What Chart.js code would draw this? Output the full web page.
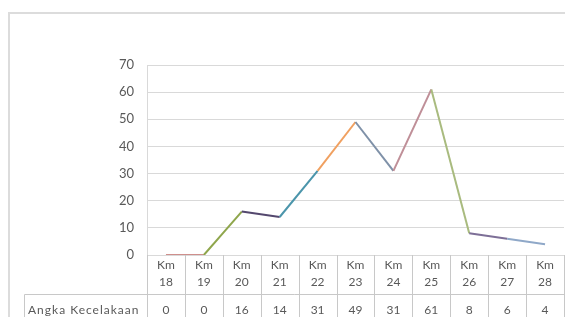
<!DOCTYPE html>
<html>
<head>
<meta charset="utf-8">
<script src="https://cdn.jsdelivr.net/npm/chart.js@4"></script>
<style>
  html, body { margin: 0; padding: 0; background: #fff; overflow: hidden; }
  #wrap { position: relative; width: 565px; height: 317px; }
  #frame { position: absolute; left: 8px; top: 12px; width: 600px; height: 400px;
           border: 2px solid #dcdcdc; box-sizing: border-box; }
  canvas { position: absolute; left: 0; top: 0; }
</style>
</head>
<body>
<div id="wrap">
  <div id="frame"></div>
  <canvas id="chart" width="565" height="317"></canvas>
</div>
<script>
// data
const categories = ["Km 18", "Km 19", "Km 20", "Km 21", "Km 22", "Km 23", "Km 24", "Km 25", "Km 26", "Km 27", "Km 28"];
const accidents  = [0, 0, 16, 14, 31, 49, 31, 61, 8, 6, 4];
const seriesName = "Angka Kecelakaan";
const yMin = 0, yMax = 70, yStep = 10;

// excel "vary colours by point" — segment takes the colour of the point it ends on
const pointColors = ["#4f81bd", "#cf8f8c", "#8fa64c", "#54486e", "#4b95ab", "#f0a060",
                     "#7f91a8", "#bf8f98", "#a9bb7f", "#7d6f97", "#8fa8c8"];

const textColor = "#595959";
const lineColor = "#d9d9d9";
const tableLine = "#c8c8c8";
const font = "Lato, 'Liberation Sans', sans-serif";

// draws the data table under the plot
const dataTable = {
  id: "dataTable",
  afterDraw(chart) {
    const ctx = chart.ctx, x = chart.scales.x, area = chart.chartArea;
    const w = x.getPixelForValue(1) - x.getPixelForValue(0);
    const top = area.bottom, rowY = 294.5, bottom = chart.height + 2;
    const labelLeft = 24.5;

    ctx.save();
    ctx.strokeStyle = tableLine;
    ctx.lineWidth = 1;
    ctx.beginPath();
    for (let i = 0; i <= categories.length; i++) {
      const bx = Math.round(x.getPixelForValue(i) - w / 2) + 0.5;
      ctx.moveTo(bx, top);
      ctx.lineTo(bx, bottom);
    }
    ctx.moveTo(labelLeft, rowY);
    ctx.lineTo(area.right, rowY);
    ctx.moveTo(labelLeft, rowY);
    ctx.lineTo(labelLeft, bottom);
    ctx.stroke();

    ctx.fillStyle = textColor;
    ctx.font = "12px " + font;
    ctx.textAlign = "center";
    ctx.textBaseline = "middle";
    categories.forEach((c, i) => {
      const cx = x.getPixelForValue(i);
      const [a, b] = c.split(" ");
      ctx.fillText(a, cx, 265);
      ctx.fillText(b, cx, 282);
      ctx.fillText(String(accidents[i]), cx, 310);
    });
    ctx.textAlign = "left";
    ctx.letterSpacing = "1px";
    ctx.fillText(seriesName, 28, 310);
    ctx.restore();
  }
};

new Chart(document.getElementById("chart"), {
  type: "line",
  data: {
    labels: categories,
    datasets: [{
      label: seriesName,
      data: accidents,
      borderWidth: 2,
      pointRadius: 0,
      tension: 0,
      segment: { borderColor: c => pointColors[c.p1DataIndex] }
    }]
  },
  options: {
    responsive: false,
    animation: false,
    devicePixelRatio: 1,
    layout: { padding: { top: 65, right: 1, left: 0, bottom: 0 } },
    plugins: { legend: { display: false }, tooltip: { enabled: false } },
    scales: {
      x: {
        offset: true,
        grid: { display: false },
        border: { display: false },
        ticks: { display: false },
        afterFit: s => { s.height = 62; }
      },
      y: {
        min: yMin, max: yMax,
        ticks: { stepSize: yStep, color: textColor, padding: 13,
                 font: { family: font, size: 13 } },
        grid: { color: lineColor, drawTicks: false },
        border: { display: true, color: lineColor },
        afterFit: s => { s.width = 147; }
      }
    }
  },
  plugins: [dataTable]
});
</script>
</body>
</html>
